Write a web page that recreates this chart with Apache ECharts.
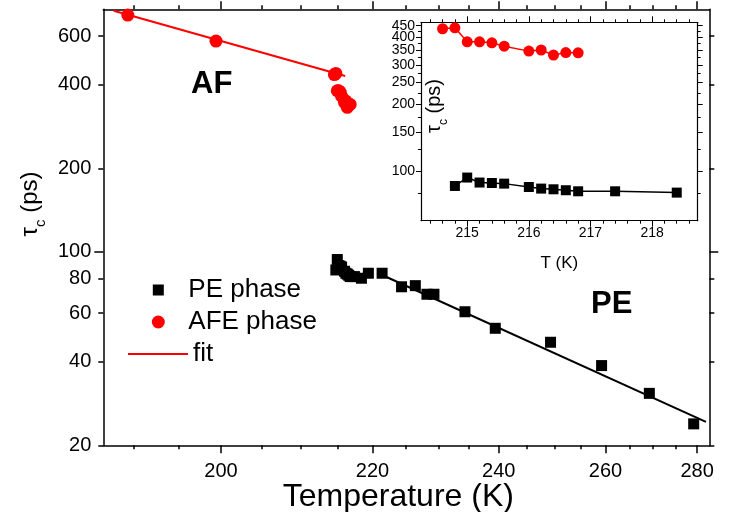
<!DOCTYPE html>
<html><head><meta charset="utf-8">
<script src="https://cdn.jsdelivr.net/npm/echarts@6/dist/echarts.min.js"></script>
<style>html,body{margin:0;padding:0;background:#fff}#c{width:730px;height:512px}</style>
</head><body><div id="c"></div>
<script>
// ---------- data ----------
// PE phase (black squares), temperature in K and tau_c in ps
const peT   = [214.8, 215.0, 215.2, 215.4, 215.6, 216.0, 216.2, 216.4, 216.6, 216.8, 217.4, 218.4,
               219.4, 221.4, 224.3, 226.4, 228.2, 229.3, 234.3, 239.4, 249.3, 259.2, 269.2, 279.2];
const peTau = [85.9, 93.7, 89.0, 88.6, 88.0, 85.0, 83.6, 83.0, 82.2, 81.3, 81.3, 80.2,
               83.6, 83.6, 74.7, 75.4, 70.2, 70.2, 60.7, 52.9, 47.1, 38.8, 30.8, 23.9];
// AFE phase (red circles)
const afT   = [189.4, 199.4, 214.6, 214.8, 215.0, 215.2, 215.4, 215.6, 216.0, 216.2, 216.4, 216.6, 216.8];
const afTau = [715, 576, 436, 440, 381, 381, 377, 364, 346, 350, 332, 341, 340];
// number of low-temperature points shown in the inset
const insetPeCount = 12;   // PE points 214.8 .. 218.4
const insetAfFrom = 2;     // AF points from 214.6 on
// fit lines (end points)
const fitPeT = [221.4, 282.1];
const fitPeTau = [82.4, 24.3];
const fitAfT = [187.9, 216.1];
const fitAfTau = [741, 431];
// axes
const mainTRange = [186.8, 282.9];
const mainTauRange = [20, 750];
const mainXTicks = [200, 220, 240, 260, 280];
const mainXMinor = [190, 195, 205, 210, 215, 225, 230, 235, 245, 250, 255, 265, 270, 275];
const mainYTicks = [20, 40, 60, 80, 100, 200, 400, 600];
const mainYMajor = [100];
const insetTRange = [214.25, 218.74];
const insetTauRange = [60, 466];
const insetXTicks = [215, 216, 217, 218];
const insetXMinor = [214.4, 214.6, 214.8, 215.2, 215.4, 215.6, 215.8, 216.2, 216.4, 216.6, 216.8,
                     217.2, 217.4, 217.6, 217.8, 218.2, 218.4, 218.6];
const insetYTicksA = [100, 200, 300, 400];
const insetYTicksB = [150, 250, 350, 450];
const insetYMinor = [80, 125, 175, 225, 275, 325, 375, 425];

// ---------- chart ----------
const FONT = 'Arial, "Liberation Sans", sans-serif';
const inv = t => 1000 / t;
const chart = echarts.init(document.getElementById('c'));
const axLine = {show: true, lineStyle: {color: '#000', width: 1.5}};
const noLine = {show: false};

function mainX(pos, ticks, len, labels, extra) {
  return Object.assign({
    type: 'value', gridIndex: 0, position: pos, inverse: true,
    min: inv(mainTRange[1]), max: inv(mainTRange[0]),
    axisLine: labels !== null ? axLine : noLine,
    axisTick: {show: true, inside: false, length: len, customValues: ticks.map(inv), lineStyle: {color: '#000', width: 1.5}},
    axisLabel: labels ? {show: true, customValues: ticks.map(inv), formatter: v => String(Math.round(1000 / v)),
      fontSize: 20, color: '#000', fontFamily: FONT, margin: 16, hideOverlap: false} : {show: false},
    splitLine: {show: false}
  }, extra || {});
}
function mainY(pos, ticks, len, labels, line) {
  return {
    type: 'log', logBase: 10, gridIndex: 0, position: pos,
    min: mainTauRange[0], max: mainTauRange[1],
    axisLine: line ? axLine : noLine,
    axisTick: {show: true, inside: false, length: len, customValues: ticks, lineStyle: {color: '#000', width: 1.5}},
    axisLabel: labels ? {show: true, customValues: ticks, fontSize: 20, color: '#000', fontFamily: FONT, margin: 12,
      padding: [5, 0, 0, 0], hideOverlap: false} : {show: false},
    splitLine: {show: false}, minorTick: {show: false}
  };
}
const inLine = {show: true, lineStyle: {color: '#000', width: 1.2}};
function insetX(pos, ticks, len, labels, line, extra) {
  return Object.assign({
    type: 'value', gridIndex: 1, position: pos,
    min: insetTRange[0], max: insetTRange[1],
    axisLine: line ? inLine : noLine,
    axisTick: {show: true, inside: false, length: len, customValues: ticks, lineStyle: {color: '#000', width: 1}},
    axisLabel: labels ? {show: true, customValues: ticks, fontSize: 14, color: '#000', fontFamily: FONT, margin: 5,
      hideOverlap: false} : {show: false},
    splitLine: {show: false}
  }, extra || {});
}
function insetY(pos, ticks, len, labels, line) {
  return {
    type: 'log', logBase: 10, gridIndex: 1, position: pos,
    min: insetTauRange[0], max: insetTauRange[1],
    axisLine: line ? inLine : noLine,
    axisTick: {show: true, inside: false, length: len, customValues: ticks, lineStyle: {color: '#000', width: 1}},
    axisLabel: labels ? {show: true, customValues: ticks, fontSize: 14, color: '#000', fontFamily: FONT,
      margin: 6, hideOverlap: false} : {show: false},
    splitLine: {show: false}, minorTick: {show: false}
  };
}

const pePts = peT.map((t, i) => [inv(t), peTau[i]]);
const afPts = afT.map((t, i) => [inv(t), afTau[i]]);
const fitPePts = fitPeT.map((t, i) => [inv(t), fitPeTau[i]]);
const fitAfPts = fitAfT.map((t, i) => [inv(t), fitAfTau[i]]);
const insPe = peT.slice(0, insetPeCount).map((t, i) => [t, peTau[i]]);
const insAf = afT.slice(insetAfFrom).map((t, i) => [t, afTau[i + insetAfFrom]]);

const legText = {fontSize: 26, color: '#000', fontFamily: FONT, lineHeight: 28};
const option = {
  backgroundColor: '#fff',
  animation: false,
  textStyle: {fontFamily: FONT},
  grid: [
    {left: 103.3, top: 9.3, right: 20.7, bottom: 66.7, outerBoundsMode: 'none', containLabel: false},
    {left: 421, top: 22.3, right: 32.3, bottom: 291.3, outerBoundsMode: 'none', containLabel: false,
      show: true, backgroundColor: '#fff', borderWidth: 0}
  ],
  xAxis: [
    mainX('bottom', mainXTicks, 8, true, {name: 'Temperature (K)', nameLocation: 'middle', nameGap: 36,
      nameMoveOverlap: false,
      nameTextStyle: {fontSize: 32, color: '#000', fontFamily: FONT, padding: [0, 16, 0, 0]}}),
    mainX('bottom', mainXMinor, 4, null),
    mainX('top', mainXTicks, 8, false),
    mainX('top', mainXMinor, 4, null),
    insetX('bottom', insetXTicks, 6, true, true, {name: 'T (K)', nameLocation: 'middle', nameGap: 34,
      nameMoveOverlap: false,
      nameTextStyle: {fontSize: 17, color: '#000', fontFamily: FONT}}),
    insetX('bottom', insetXMinor, 3, false, false),
    insetX('top', insetXTicks, 6, false, true),
    insetX('top', insetXMinor, 3, false, false)
  ],
  yAxis: [
    mainY('left', mainYTicks, 5, true, true),
    mainY('left', mainYMajor, 9, false, false),
    mainY('right', mainYTicks, 5, false, true),
    mainY('right', mainYMajor, 9, false, false),
    insetY('left', insetYTicksA, 5, true, true),
    insetY('left', insetYTicksB, 5, true, false),
    insetY('left', insetYMinor, 3, false, false),
    insetY('right', insetYTicksA, 5, false, true),
    insetY('right', insetYTicksB, 5, false, false),
    insetY('right', insetYMinor, 3, false, false)
  ],
  legend: [
    {data: [{name: 'PE phase', icon: 'rect'}], left: 152.8, top: 276, padding: 0,
      itemWidth: 11, itemHeight: 11, itemGap: 0,
      textStyle: Object.assign({padding: [0, 0, 0, 19.5]}, legText)},
    {data: [{name: 'AFE phase', icon: 'circle'}], left: 151.8, top: 308, padding: 0,
      itemWidth: 13, itemHeight: 13, itemGap: 0,
      textStyle: Object.assign({padding: [0, 0, 0, 18.5]}, legText)},
    {data: [{name: 'fit', icon: 'rect'}], left: 128, top: 340, padding: 0,
      itemWidth: 60, itemHeight: 2, itemGap: 0,
      textStyle: legText}
  ],
  series: [
    {name: 'fit PE', type: 'line', xAxisIndex: 0, yAxisIndex: 0, data: fitPePts, symbol: 'none',
      lineStyle: {color: '#000', width: 2}, itemStyle: {color: '#000'}, z: 2},
    {name: 'fit', type: 'line', xAxisIndex: 0, yAxisIndex: 0, data: fitAfPts, symbol: 'none',
      lineStyle: {color: '#ff0000', width: 2}, itemStyle: {color: '#ff0000'}, z: 2},
    {name: 'PE phase', type: 'scatter', xAxisIndex: 0, yAxisIndex: 0, data: pePts, symbol: 'rect',
      symbolSize: 11, itemStyle: {color: '#000', opacity: 1}, z: 3},
    {name: 'AFE phase', type: 'scatter', xAxisIndex: 0, yAxisIndex: 0, data: afPts, symbol: 'circle',
      symbolSize: 13, itemStyle: {color: '#ff0000', opacity: 1}, z: 3},
    {name: 'inset PE', type: 'line', xAxisIndex: 4, yAxisIndex: 4, data: insPe, symbol: 'rect',
      symbolSize: 10, showAllSymbol: true, lineStyle: {color: '#000', width: 1.5}, itemStyle: {color: '#000'}, z: 5},
    {name: 'inset AF', type: 'line', xAxisIndex: 4, yAxisIndex: 4, data: insAf, symbol: 'circle',
      symbolSize: 11, showAllSymbol: true, lineStyle: {color: '#ff0000', width: 1.5}, itemStyle: {color: '#ff0000'}, z: 5}
  ],
  graphic: [
    {type: 'text', left: 191, top: 69, z: 10,
      style: {text: 'AF', font: 'bold 31px ' + FONT, fill: '#000'}},
    {type: 'text', left: 591, top: 289, z: 10,
      style: {text: 'PE', font: 'bold 31px ' + FONT, fill: '#000'}},
    {type: 'text', x: 33, y: 204, rotation: Math.PI / 2, z: 10,
      style: {text: '{a|τ}{b|c}{a| (ps)}', align: 'center', verticalAlign: 'middle',
        rich: {a: {fontSize: 24, fontFamily: FONT, fill: '#000', verticalAlign: 'bottom', padding: [0, 0, 6, 0]},
               b: {fontSize: 15, fontFamily: FONT, fill: '#000', verticalAlign: 'bottom'}}}},
    {type: 'text', x: 437, y: 106, rotation: Math.PI / 2, z: 10,
      style: {text: '{a|τ}{b|c}{a| (ps)}', align: 'center', verticalAlign: 'middle',
        rich: {a: {fontSize: 20, fontFamily: FONT, fill: '#000', verticalAlign: 'bottom', padding: [0, 0, 5, 0]},
               b: {fontSize: 12, fontFamily: FONT, fill: '#000', verticalAlign: 'bottom'}}}}
  ]
};
chart.setOption(option);
</script></body></html>
